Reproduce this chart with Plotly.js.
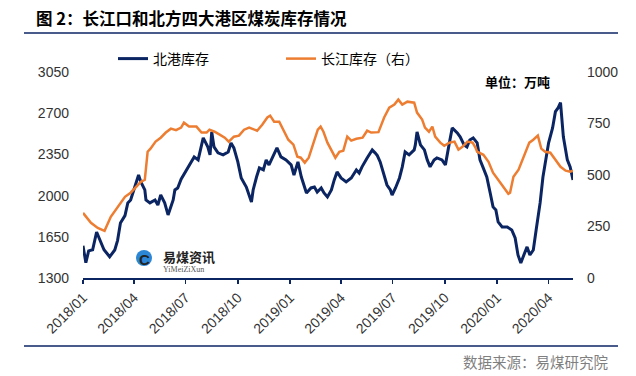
<!DOCTYPE html>
<html>
<head>
<meta charset="utf-8">
<script src="https://cdn.plot.ly/plotly-3.0.1.min.js"></script>
<style>html,body{margin:0;padding:0;background:#fff;}#chart{width:636px;height:376px;}</style>
</head>
<body>
<div id="chart"></div>
<script>
// 北港库存 (left axis, 万吨)
const northDates = ['2018-01-01','2018-01-06','2018-01-11','2018-01-18','2018-01-25','2018-01-31','2018-02-07','2018-02-17','2018-02-26','2018-03-03','2018-03-08','2018-03-16','2018-03-21','2018-03-26','2018-04-02','2018-04-09','2018-04-13','2018-04-20','2018-04-22','2018-04-29','2018-05-08','2018-05-13','2018-05-18','2018-05-25','2018-05-31','2018-06-09','2018-06-12','2018-06-17','2018-06-23','2018-07-02','2018-07-10','2018-07-16','2018-07-23','2018-08-01','2018-08-09','2018-08-13','2018-08-16','2018-08-20','2018-08-27','2018-09-05','2018-09-14','2018-09-19','2018-09-24','2018-10-01','2018-10-07','2018-10-16','2018-10-25','2018-10-28','2018-11-03','2018-11-08','2018-11-15','2018-11-20','2018-11-25','2018-12-02','2018-12-09','2018-12-16','2018-12-25','2019-01-03','2019-01-08','2019-01-15','2019-01-21','2019-01-30','2019-02-07','2019-02-13','2019-02-18','2019-02-25','2019-03-02','2019-03-08','2019-03-15','2019-03-20','2019-03-25','2019-04-01','2019-04-10','2019-04-19','2019-04-28','2019-05-03','2019-05-08','2019-05-17','2019-05-26','2019-05-31','2019-06-04','2019-06-09','2019-06-16','2019-06-21','2019-06-27','2019-06-30','2019-07-06','2019-07-13','2019-07-18','2019-07-23','2019-07-30','2019-08-08','2019-08-10','2019-08-13','2019-08-19','2019-08-26','2019-08-31','2019-09-05','2019-09-12','2019-09-17','2019-09-26','2019-10-02','2019-10-09','2019-10-14','2019-10-23','2019-10-28','2019-11-04','2019-11-09','2019-11-14','2019-11-20','2019-11-27','2019-12-02','2019-12-07','2019-12-14','2019-12-20','2019-12-25','2019-12-30','2020-01-03','2020-01-10','2020-01-19','2020-01-27','2020-02-02','2020-02-07','2020-02-12','2020-02-16','2020-02-23','2020-02-28','2020-03-05','2020-03-10','2020-03-17','2020-03-22','2020-04-01','2020-04-08','2020-04-13','2020-04-18','2020-04-22','2020-04-27','2020-05-04','2020-05-09','2020-05-14'];
const northValues = [1575,1430,1530,1540,1691,1620,1540,1480,1538,1620,1767,1830,1938,1963,2073,2175,2116,2048,1963,1938,1963,1920,2005,1938,1836,1963,2048,2065,2140,2218,2278,2329,2303,2490,2414,2346,2541,2414,2363,2346,2371,2448,2405,2286,2150,2073,1946,2048,2158,2235,2218,2303,2261,2329,2405,2329,2303,2261,2175,2286,2158,2022,2065,2073,2031,2065,2022,1988,2048,2133,2201,2150,2116,2150,2218,2192,2244,2320,2388,2363,2340,2286,2175,2090,2048,2005,2065,2150,2244,2371,2346,2388,2431,2541,2431,2388,2303,2244,2303,2320,2303,2261,2448,2575,2533,2499,2431,2414,2473,2490,2448,2303,2244,2158,2022,1904,1878,1776,1734,1734,1708,1640,1496,1428,1479,1564,1496,1538,1708,1938,2158,2448,2575,2713,2747,2790,2499,2303,2244,2133];

// 长江库存 (right axis, 万吨)
const yangtzeDates = ['2018-01-01','2018-01-06','2018-01-15','2018-01-27','2018-02-08','2018-02-19','2018-03-03','2018-03-16','2018-03-26','2018-04-04','2018-04-13','2018-04-20','2018-04-25','2018-04-30','2018-05-09','2018-05-18','2018-05-27','2018-06-05','2018-06-14','2018-06-23','2018-06-28','2018-07-07','2018-07-20','2018-07-29','2018-08-07','2018-08-12','2018-08-21','2018-08-30','2018-09-08','2018-09-15','2018-09-24','2018-10-03','2018-10-12','2018-10-21','2018-10-30','2018-11-04','2018-11-13','2018-11-22','2018-11-27','2018-12-04','2018-12-13','2018-12-20','2018-12-29','2019-01-07','2019-01-14','2019-01-20','2019-01-27','2019-02-03','2019-02-10','2019-02-19','2019-02-24','2019-03-01','2019-03-08','2019-03-15','2019-03-22','2019-03-29','2019-04-05','2019-04-12','2019-04-19','2019-04-28','2019-05-09','2019-05-17','2019-05-24','2019-06-06','2019-06-16','2019-06-25','2019-07-04','2019-07-11','2019-07-18','2019-07-27','2019-08-08','2019-08-13','2019-08-22','2019-08-27','2019-09-03','2019-09-09','2019-09-14','2019-09-23','2019-09-30','2019-10-09','2019-10-18','2019-10-25','2019-11-01','2019-11-10','2019-11-19','2019-11-24','2019-11-27','2019-12-08','2019-12-17','2019-12-25','2020-01-03','2020-01-12','2020-01-21','2020-01-24','2020-01-30','2020-02-08','2020-02-16','2020-02-27','2020-03-05','2020-03-13','2020-03-19','2020-03-26','2020-04-04','2020-04-13','2020-04-22','2020-05-01','2020-05-09','2020-05-14'];
const yangtzeValues = [316,297,268,243,229,297,345,394,414,443,467,477,613,628,662,681,706,725,718,730,754,735,735,706,706,720,710,696,681,662,686,691,720,730,720,715,744,779,788,759,759,720,671,647,589,584,560,584,647,720,735,710,657,623,584,613,618,686,667,676,681,715,706,708,779,827,842,866,842,856,851,803,769,730,710,735,686,657,642,657,662,623,637,662,657,633,613,598,564,511,477,438,409,414,491,526,584,657,671,691,628,613,608,574,540,521,516,521];

const seriesNames = ['北港库存', '长江库存（右）'];
const leftTicks = [1300, 1650, 2000, 2350, 2700, 3050];
const rightTicks = [0, 250, 500, 750, 1000];

const W = 636, H = 376, L = 83, R = 63, T = 72, B = 98;
const pw = W - L - R, ph = H - T - B;
const px = v => (v - L) / pw;
const py = v => (H - B - v) / ph;

const NAVY = '#0b2563';
const ORANGE = '#ED7D31';
const tickFont = {family: 'Liberation Sans, Arial, sans-serif', size: 14, color: '#333333'};
const cjk = 'Noto Sans CJK SC, sans-serif';

const traces = [
  {x: northDates, y: northValues, name: seriesNames[0], type: 'scatter', mode: 'lines',
   line: {color: NAVY, width: 3}, yaxis: 'y'},
  {x: yangtzeDates, y: yangtzeValues, name: seriesNames[1], type: 'scatter', mode: 'lines',
   line: {color: ORANGE, width: 2.5}, yaxis: 'y2'}
];

const layout = {
  width: W, height: H,
  margin: {l: L, r: R, t: T, b: B, pad: 0},
  paper_bgcolor: '#fff', plot_bgcolor: '#fff',
  showlegend: true,
  legend: {orientation: 'h', x: px(113), xanchor: 'left', y: py(59), yanchor: 'middle',
           font: {family: cjk, size: 14, color: '#000'}, entrywidth: 123, bgcolor: 'rgba(0,0,0,0)'},
  xaxis: {type: 'date', range: ['2018-01-01', '2020-05-14'], tick0: '2018-01-01', dtick: 'M3',
          tickformat: '%Y/%m', tickangle: -45, ticks: 'outside', ticklen: 4, tickwidth: 1.5,
          tickcolor: NAVY, showline: true, linecolor: NAVY, linewidth: 2, showgrid: false,
          zeroline: false, tickfont: tickFont, fixedrange: true},
  yaxis: {range: [1300, 3050], tickvals: leftTicks, ticktext: leftTicks.map(String),
          showgrid: false, zeroline: false, showline: false, ticks: '', tickfont: tickFont,
          ticklabelstandoff: 13},
  yaxis2: {range: [0, 1000], tickvals: rightTicks, ticktext: rightTicks.map(String),
           overlaying: 'y', side: 'right', showgrid: false, zeroline: false, showline: false,
           ticks: '', tickfont: tickFont, ticklabelstandoff: 13},
  annotations: [
    {text: '<b>图 2：长江口和北方四大港区煤炭库存情况</b>', xref: 'paper', yref: 'paper',
     x: px(34), y: py(18), xanchor: 'left', yanchor: 'middle', showarrow: false,
     font: {family: cjk, size: 16.5, color: '#000'}},
    {text: '<b>单位：万吨</b>', xref: 'paper', yref: 'paper', x: px(483), y: py(81),
     xanchor: 'left', yanchor: 'middle', showarrow: false, font: {family: cjk, size: 13, color: '#000'}},
    {text: '数据来源：易煤研究院', xref: 'paper', yref: 'paper', x: px(610), y: py(361),
     xanchor: 'right', yanchor: 'middle', showarrow: false, font: {family: cjk, size: 14.5, color: '#7f7f7f'}},
    {text: '<b>易煤资讯</b>', xref: 'paper', yref: 'paper', x: px(161), y: py(256),
     xanchor: 'left', yanchor: 'middle', showarrow: false, font: {family: cjk, size: 13, color: '#222'}},
    {text: 'YiMeiZiXun', xref: 'paper', yref: 'paper', x: px(161), y: py(269),
     xanchor: 'left', yanchor: 'middle', showarrow: false, font: {family: 'Liberation Serif, serif', size: 8, color: '#555'}},
    {text: '<b>C</b>', xref: 'paper', yref: 'paper', x: px(144), y: py(259),
     xanchor: 'center', yanchor: 'middle', showarrow: false, font: {family: 'Liberation Sans, Arial', size: 15, color: '#222'}}
  ],
  shapes: [
    {type: 'line', xref: 'paper', yref: 'paper', x0: px(24), x1: px(618), y0: py(33), y1: py(33),
     line: {color: NAVY, width: 1.5}},
    {type: 'line', xref: 'paper', yref: 'paper', x0: px(24), x1: px(618), y0: py(346), y1: py(346),
     line: {color: NAVY, width: 1.5}},
    {type: 'circle', xref: 'paper', yref: 'paper', x0: px(136), x1: px(152), y0: py(250), y1: py(266),
     fillcolor: '#2b86d6', line: {width: 0}, layer: 'above'}
  ]
};

Plotly.newPlot('chart', traces, layout, {displayModeBar: false, staticPlot: true});
</script>
</body>
</html>
